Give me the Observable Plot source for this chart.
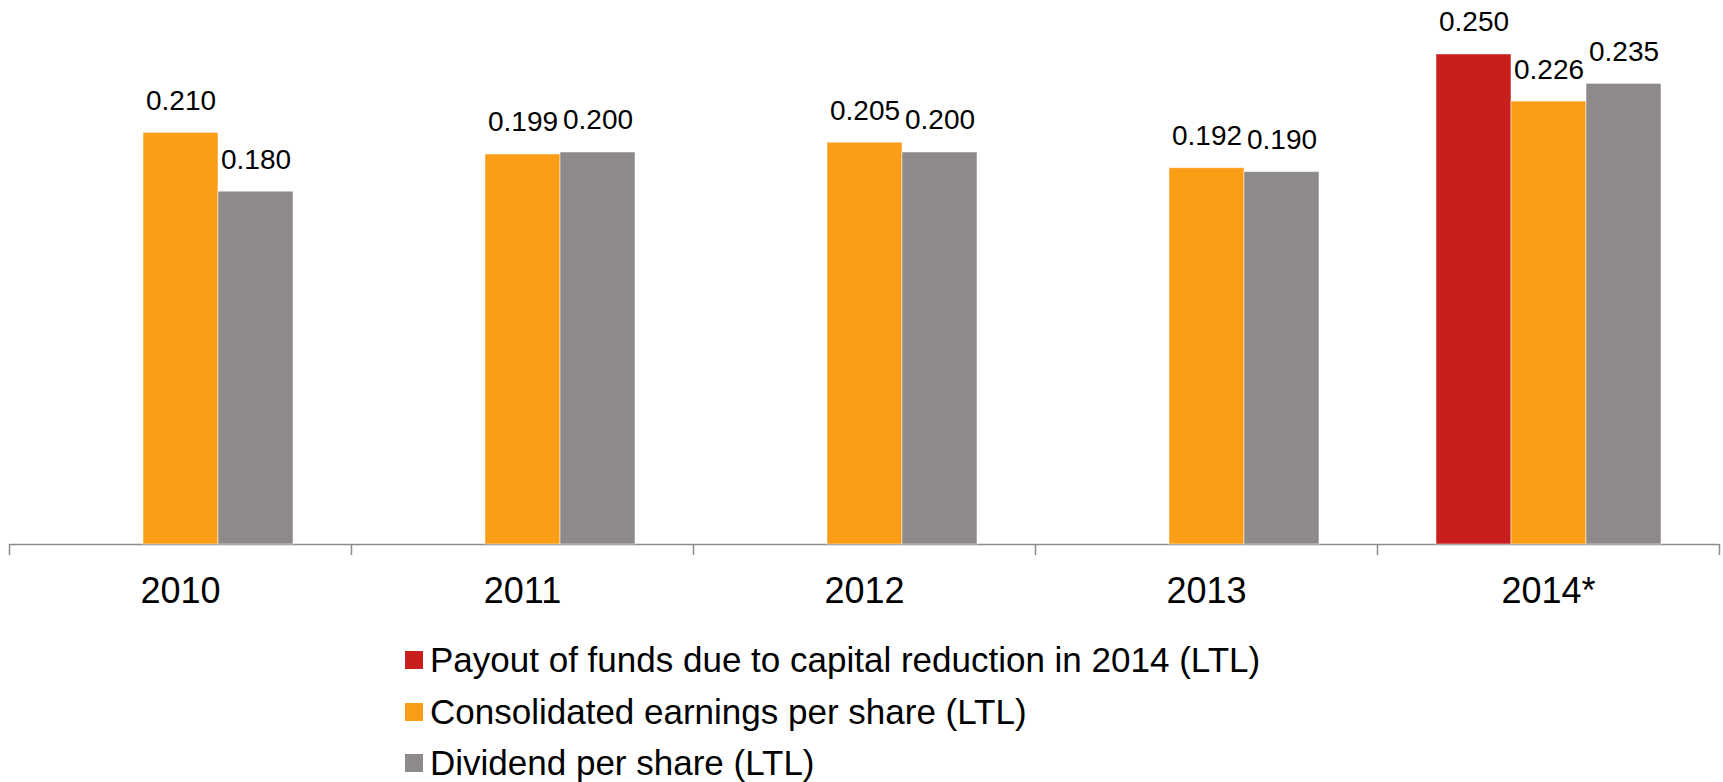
<!DOCTYPE html>
<html>
<head>
<meta charset="utf-8">
<script src="https://cdn.jsdelivr.net/npm/d3@7"></script>
<script src="https://cdn.jsdelivr.net/npm/@observablehq/plot@0.6"></script>
<style>
  html, body { margin: 0; padding: 0; background: #fff; }
  #chart svg { display: block; }
  .legend { font-family: "Liberation Sans", Arial, sans-serif; font-size: 35px; color: #000; margin-top: 9px; padding-left: 405px; }
  .legend .row { display: flex; align-items: center; height: 51.7px; line-height: 51.7px; white-space: nowrap; }
  .legend .sw { width: 18px; height: 18px; margin-right: 7px; flex: none; }
</style>
</head>
<body>
<div id="chart"></div>
<div class="legend" id="legend"></div>
<script>
const years = ["2010", "2011", "2012", "2013", "2014*"];
const series = [
  "Payout of funds due to capital reduction in 2014 (LTL)",
  "Consolidated earnings per share (LTL)",
  "Dividend per share (LTL)"
];
const payout   = [null, null, null, null, 0.250];
const earnings = [0.210, 0.199, 0.205, 0.192, 0.226];
const dividend = [0.180, 0.200, 0.200, 0.190, 0.235];
const colors = ["#C81E1E", "#FC9D18", "#8E8A89"];
const axisColor = "#8c8c8c";

const seriesValues = [payout, earnings, dividend];
const rows = [];
years.forEach((year, i) => {
  seriesValues.forEach((vals, s) => {
    if (vals[i] != null) rows.push({year, series: series[s], value: vals[i]});
  });
});

const chart = Plot.plot({
  width: 1723,
  height: 625,
  marginTop: 54,
  marginBottom: 81,
  marginLeft: 9,
  marginRight: 4,
  style: {fontFamily: "'Liberation Sans', Arial, sans-serif", background: "white", color: "black"},
  fx: {domain: years, padding: 0, label: null},
  x: {domain: series, paddingInner: 0, paddingOuter: 0.765, axis: null},
  y: {domain: [0, 0.25], axis: null},
  color: {domain: series, range: colors},
  marks: [
    Plot.ruleY([0], {stroke: axisColor, strokeWidth: 1.5}),
    Plot.barY(rows, {fx: "year", x: "series", y: "value", fill: "series", stroke: "white", strokeOpacity: 0.5, strokeWidth: 1}),
    Plot.text(rows, {fx: "year", x: "series", y: "value", text: d => d.value.toFixed(3), dy: -32, fontSize: 28, fill: "black"}),
    Plot.axisFx({anchor: "bottom", tickSize: 11, dx: -171, tickFormat: () => "", stroke: axisColor, strokeWidth: 1.5, label: null}),
    Plot.axisFx({anchor: "bottom", ticks: [years[years.length - 1]], tickSize: 11, dx: 171, tickFormat: () => "", stroke: axisColor, strokeWidth: 1.5, label: null}),
    Plot.axisFx({anchor: "bottom", tickSize: 0, tickPadding: 33, fontSize: 36, fill: "black", label: null})
  ]
});
document.getElementById("chart").appendChild(chart);

const legend = document.getElementById("legend");
series.forEach((name, i) => {
  const row = document.createElement("div");
  row.className = "row";
  const sw = document.createElement("span");
  sw.className = "sw";
  sw.style.background = colors[i];
  const label = document.createElement("span");
  label.textContent = name;
  row.appendChild(sw);
  row.appendChild(label);
  legend.appendChild(row);
});
</script>
</body>
</html>
